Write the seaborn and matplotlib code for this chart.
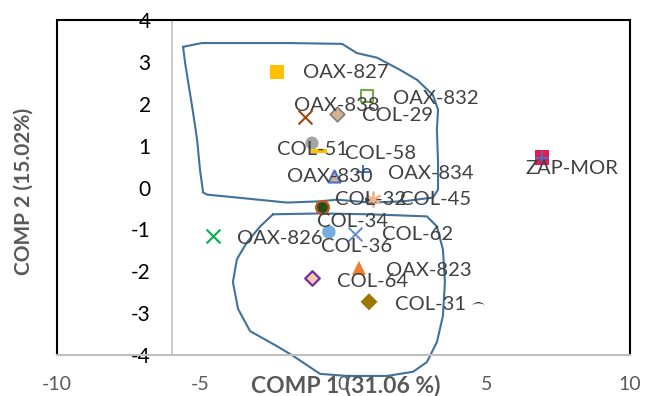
import matplotlib
matplotlib.use("Agg")
import matplotlib.pyplot as plt
import seaborn as sns
import pandas as pd
from matplotlib.lines import Line2D

# ---------------- data ----------------
names = ["OAX-827", "OAX-832", "OAX-838", "COL-29", "COL-51", "COL-58",
         "OAX-834", "OAX-830", "COL-32", "COL-45", "COL-34", "COL-36",
         "COL-62", "OAX-826", "OAX-823", "COL-64", "COL-31", "ZAP-MOR"]
comp1 = [-2.32, 0.82, -1.34, -0.23, -1.10, -0.86,
         0.68, -0.33, 0.86, 1.03, -0.75, -0.51,
         0.40, -4.55, 0.54, -1.10, 0.89, 6.93]
comp2 = [2.76, 2.19, 1.68, 1.76, 1.06, 0.87,
         0.37, 0.28, -0.30, -0.27, -0.46, -1.06,
         -1.11, -1.16, -1.92, -2.16, -2.73, 0.71]

extra_x = [4.69]
extra_y = [-2.75]

upper_x = [-5.60, -4.94, -3.72, -1.97, -0.05, 0.47, 1.17, 1.97, 2.57, 3.12, 3.30,
           3.26, 3.30, 3.30, 3.12, 2.08, 0.92, -0.23, -0.82, -1.97, -3.72, -4.76,
           -4.90, -5.01, -5.11, -5.25, -5.53, -5.60]
upper_y = [3.36, 3.45, 3.45, 3.45, 3.43, 3.21, 3.10, 2.81, 2.57, 2.21, 1.86,
           1.38, 0.60, -0.05, -0.24, -0.33, -0.36, -0.29, -0.33, -0.36, -0.24, -0.17,
           -0.12, 0.43, 1.14, 1.79, 2.98, 3.36]

lower_x = [-2.46, -0.82, 0.92, 2.91, 3.26, 3.47, 3.54, 3.47, 3.26, 2.91, 2.43, 1.52,
           0.12, -0.82, -1.76, -2.32, -3.26, -3.68, -3.86, -3.72, -3.37, -2.91, -2.46]
lower_y = [-0.64, -0.62, -0.64, -0.69, -0.93, -1.48, -2.26, -3.07, -3.69, -4.17, -4.40,
           -4.50, -4.50, -4.45, -4.02, -3.79, -3.43, -2.90, -2.26, -1.71, -1.31, -0.93, -0.64]

x_ticks = [-10, -5, 0, 5, 10]
y_ticks = [-4, -3, -2, -1, 0, 1, 2, 3, 4]
x_title = "COMP 1 (31.06 %)"
y_title = "COMP 2 (15.02%)"

df = pd.DataFrame({"name": names, "comp1": comp1, "comp2": comp2})

# ---------------- styles ----------------
styles = {
    "OAX-827": dict(marker="s", s=110, color="#FFC000", edgecolor="none"),
    "OAX-832": dict(marker="s", s=80, facecolor="none", edgecolor="#70AD47", linewidth=1.5),
    "OAX-838": dict(marker="x", s=100, color="#9E480E", linewidth=1.5),
    "COL-29": dict(marker="D", s=55, color="#D3B48C", edgecolor="#7F7F7F", linewidth=1.2),
    "COL-51": dict(marker="o", s=90, color="#A5A5A5", edgecolor="none"),
    "COL-58": dict(marker="_", s=120, color="#FFC000", linewidth=3),
    "OAX-834": dict(marker="+", s=110, color="#4472C4", linewidth=1.5),
    "OAX-830": dict(marker="^", s=75, color="#D9B38C", edgecolor="#4472C4", linewidth=1.5),
    "COL-32": dict(marker=">", s=18, color="#1F3864", edgecolor="none"),
    "COL-45": dict(marker=(6, 2, 0), s=110, color="#F4B183", linewidth=1.3),
    "COL-34": dict(marker="o", s=85, color="#264D1E", edgecolor="#C55A11", linewidth=1.6),
    "COL-36": dict(marker="o", s=95, color="#76ACDF", edgecolor="none"),
    "COL-62": dict(marker="x", s=100, color="#6A8ED6", linewidth=1.5),
    "OAX-826": dict(marker="x", s=100, color="#00B050", linewidth=1.5),
    "OAX-823": dict(marker="^", s=100, color="#ED7D31", edgecolor="none"),
    "COL-64": dict(marker="D", s=55, color="#F8CBAD", edgecolor="#7030A0", linewidth=1.6),
    "COL-31": dict(marker="D", s=75, color="#9C7800", edgecolor="none"),
    "ZAP-MOR": dict(marker="s", s=110, color="#E8194D", edgecolor="none"),
}

# label offsets in pixels (dx right, dy down) from the marker, left-aligned
label_off = {
    "OAX-827": (26, 1), "OAX-832": (26, 3), "OAX-838": (-11, -12), "COL-29": (25, 2),
    "COL-51": (-35, 6), "COL-58": (26, 2), "OAX-834": (25, 1), "OAX-830": (-47, 1),
    "COL-32": (-33, -1), "COL-45": (27, 1), "COL-34": (-5, 15), "COL-36": (-8, 15),
    "COL-62": (27, 1), "OAX-826": (24, 2), "OAX-823": (27, 3), "COL-64": (25, 4),
    "COL-31": (26, 3), "ZAP-MOR": (-17, 11),
}

sns.set_style("white")
plt.rcParams["font.family"] = ["Lato", "DejaVu Sans"]

fig = plt.figure(figsize=(6.46, 3.96), dpi=100)
ax = fig.add_axes([57 / 646, 1 - 355 / 396, 573 / 646, 335 / 396])

hull_color = "#41719C"
sns.lineplot(x=upper_x, y=upper_y, sort=False, estimator=None, color=hull_color,
             linewidth=1.5, ax=ax, clip_on=False)
sns.lineplot(x=lower_x, y=lower_y, sort=False, estimator=None, color=hull_color,
             linewidth=1.5, ax=ax, clip_on=False)

for _, row in df.iterrows():
    st = styles[row["name"]]
    sns.scatterplot(x=[row["comp1"]], y=[row["comp2"]], ax=ax, legend=False,
                    zorder=3, clip_on=False, **st)
    if row["name"] == "ZAP-MOR":
        sns.scatterplot(x=[row["comp1"]], y=[row["comp2"]], ax=ax, legend=False,
                        marker="+", s=110, color="#4472C4", linewidth=1.5, zorder=4)

sns.scatterplot(x=extra_x, y=extra_y, ax=ax, legend=False, marker="$\\frown$",
                s=70, color="black", linewidth=0, zorder=3)

for _, row in df.iterrows():
    dx, dy = label_off[row["name"]]
    ax.annotate(row["name"], (row["comp1"], row["comp2"]),
                xytext=(dx * 0.72, -dy * 0.72), textcoords="offset points",
                ha="left", va="center", fontsize=14.5, color="#404040", zorder=5)

ax.set_xlim(-10, 10)
ax.set_ylim(-4, 4)
ax.set_xticks(x_ticks)
ax.set_yticks(y_ticks)
ax.set_xticklabels([str(t) for t in x_ticks])
ax.set_yticklabels([str(t) for t in y_ticks])
ax.tick_params(axis="x", length=0, pad=15, labelsize=14, labelcolor="#595959")
ax.tick_params(axis="y", length=0, pad=15, labelsize=15, labelcolor="black")
for lab in ax.get_yticklabels():
    lab.set_fontweight("heavy")
ax.set_xlabel("")
ax.set_ylabel("")

ax.spines["left"].set_position(("data", -6))
ax.spines["left"].set_color("#BFBFBF")
ax.spines["left"].set_linewidth(1.2)
ax.spines["bottom"].set_color("#BFBFBF")
ax.spines["bottom"].set_linewidth(1.5)
for side in ("top", "right"):
    ax.spines[side].set_color("black")
    ax.spines[side].set_linewidth(1.5)
    ax.spines[side].set_visible(True)
ax.add_line(Line2D([0, 0], [0, 1], transform=ax.transAxes, color="black",
                   linewidth=1.5, clip_on=False))

fig.text(346 / 646, 1 - 385 / 396, x_title, ha="center", va="center",
         fontsize=16.5, fontweight="bold", color="#595959")
fig.text(24 / 646, 1 - 191 / 396, y_title, ha="center", va="center", rotation=90,
         fontsize=15, fontweight="bold", color="#595959")

fig.savefig("out.png", dpi=100)
